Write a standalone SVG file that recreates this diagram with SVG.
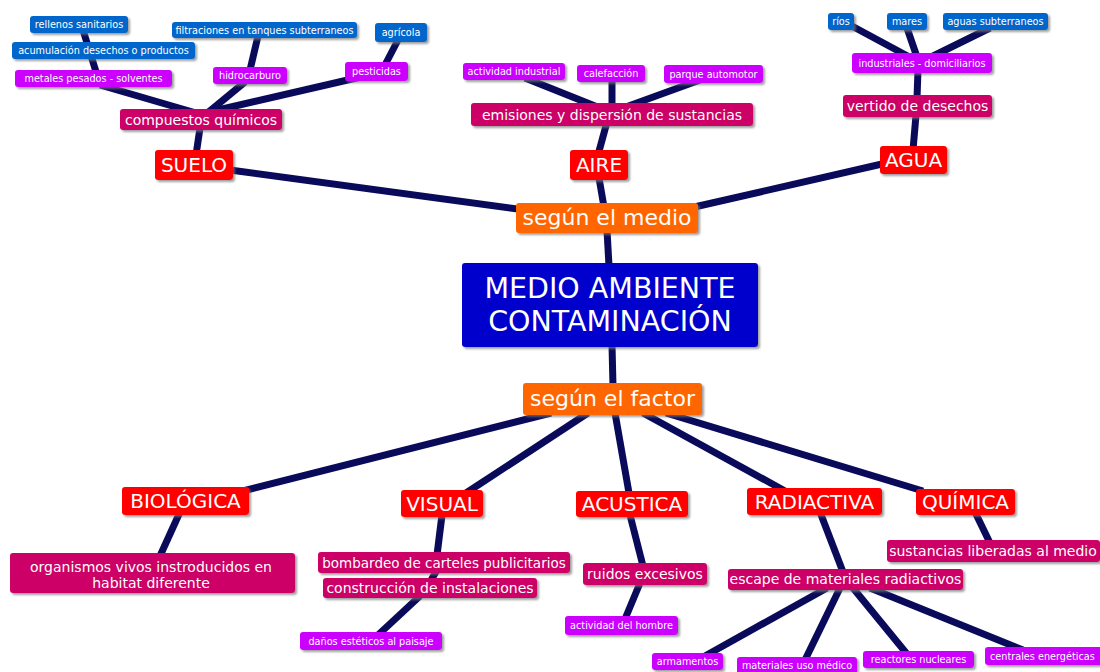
<svg xmlns="http://www.w3.org/2000/svg" width="1100" height="672" viewBox="0 0 1100 672">
<style>
text{font-family:"DejaVu Sans","Liberation Sans",sans-serif;fill:#fff;text-anchor:middle}
.c line{stroke:#0a0a5a;stroke-width:7;stroke-linecap:butt}
.box{filter:url(#sh)}
.red{fill:#ff0000}.crim{fill:#cc0066}.pur{fill:#cc00ff}.blu{fill:#0066cc}.org{fill:#ff6600}.main{fill:#0000cc}
.s{font-size:9.7px}.m{font-size:14px}.l{font-size:20px}.o{font-size:22px}.x{font-size:28.5px}
</style>
<defs>
<filter id="sh" x="-10%" y="-20%" width="130%" height="160%">
<feDropShadow dx="2" dy="2" stdDeviation="1" flood-color="#777" flood-opacity="0.7"/>
</filter>
</defs>
<rect width="1100" height="672" fill="#fff"/>
<g class="c" id="connectors">
<line x1="83" y1="30" x2="97" y2="75"/>
<line x1="100" y1="85" x2="203" y2="115"/>
<line x1="258" y1="36" x2="250" y2="70"/>
<line x1="245" y1="82" x2="205" y2="115"/>
<line x1="398" y1="40" x2="385" y2="65"/>
<line x1="365" y1="76" x2="205" y2="113"/>
<line x1="200" y1="128" x2="196" y2="155"/>
<line x1="525" y1="78" x2="610" y2="112"/>
<line x1="612" y1="80" x2="612" y2="112"/>
<line x1="700" y1="80" x2="612" y2="112"/>
<line x1="607" y1="122" x2="598" y2="155"/>
<line x1="850" y1="25" x2="915" y2="60"/>
<line x1="907" y1="28" x2="918" y2="60"/>
<line x1="990" y1="28" x2="925" y2="60"/>
<line x1="918" y1="70" x2="917" y2="98"/>
<line x1="916" y1="115" x2="913" y2="150"/>
<line x1="230" y1="170" x2="525" y2="210"/>
<line x1="599" y1="178" x2="604" y2="207"/>
<line x1="882" y1="164" x2="690" y2="208"/>
<line x1="607" y1="230" x2="609" y2="266"/>
<line x1="612" y1="345" x2="613" y2="386"/>
<line x1="551" y1="413" x2="239" y2="492"/>
<line x1="588" y1="413" x2="466" y2="493"/>
<line x1="615" y1="413" x2="629" y2="493"/>
<line x1="643" y1="413" x2="785" y2="491"/>
<line x1="666" y1="413" x2="923" y2="491"/>
<line x1="180" y1="512" x2="160" y2="556"/>
<line x1="442" y1="515" x2="437" y2="555"/>
<line x1="437" y1="570" x2="430" y2="582"/>
<line x1="420" y1="596" x2="378" y2="635"/>
<line x1="630" y1="515" x2="643" y2="566"/>
<line x1="640" y1="583" x2="625" y2="619"/>
<line x1="820" y1="512" x2="843" y2="572"/>
<line x1="975" y1="512" x2="990" y2="543"/>
<line x1="827" y1="588" x2="705" y2="656"/>
<line x1="840" y1="588" x2="805" y2="660"/>
<line x1="853" y1="588" x2="907" y2="654"/>
<line x1="870" y1="588" x2="1023" y2="650"/>
</g>
<g id="rellenos"><rect class="box blu" x="30" y="16" width="98" height="17" rx="3"/><text class="s" x="79" y="28">rellenos sanitarios</text></g>
<g id="acumulacion"><rect class="box blu" x="12" y="42" width="183" height="17" rx="3"/><text class="s" x="103.5" y="54">acumulación desechos o productos</text></g>
<g id="metales"><rect class="box pur" x="15" y="70" width="157" height="17" rx="3"/><text class="s" x="93.5" y="82">metales pesados - solventes</text></g>
<g id="filtraciones"><rect class="box blu" x="172" y="22" width="185" height="16" rx="3"/><text class="s" x="264.5" y="33.5">filtraciones en tanques subterraneos</text></g>
<g id="hidrocarburo"><rect class="box pur" x="213" y="67" width="74" height="17" rx="3"/><text class="s" x="250" y="79">hidrocarburo</text></g>
<g id="agricola"><rect class="box blu" x="375" y="23" width="52" height="19" rx="3"/><text class="s" x="401" y="36">agrícola</text></g>
<g id="pesticidas"><rect class="box pur" x="345" y="62" width="63" height="19" rx="3"/><text class="s" x="376.5" y="75">pesticidas</text></g>
<g id="compuestos"><rect class="box crim" x="120" y="109" width="162" height="21" rx="3"/><text class="m" x="201" y="124.5">compuestos químicos</text></g>
<g id="suelo"><rect class="box red" x="155" y="150" width="78" height="30" rx="3"/><text class="l" x="194" y="172">SUELO</text></g>
<g id="actividad-industrial"><rect class="box pur" x="463" y="63" width="102" height="17" rx="3"/><text class="s" x="514" y="75">actividad industrial</text></g>
<g id="calefaccion"><rect class="box pur" x="577" y="65" width="68" height="17" rx="3"/><text class="s" x="611" y="77">calefacción</text></g>
<g id="parque"><rect class="box pur" x="664" y="65" width="99" height="18" rx="3"/><text class="s" x="713.5" y="77.5">parque automotor</text></g>
<g id="emisiones"><rect class="box crim" x="471" y="103" width="282" height="23" rx="3"/><text class="m" x="612" y="119.5">emisiones y dispersión de sustancias</text></g>
<g id="aire"><rect class="box red" x="570" y="150" width="58" height="30" rx="3"/><text class="l" x="599" y="172">AIRE</text></g>
<g id="rios"><rect class="box blu" x="828" y="13" width="26" height="17" rx="3"/><text class="s" x="841" y="25">ríos</text></g>
<g id="mares"><rect class="box blu" x="887" y="13" width="40" height="17" rx="3"/><text class="s" x="907" y="25">mares</text></g>
<g id="aguas-sub"><rect class="box blu" x="943" y="13" width="105" height="17" rx="3"/><text class="s" x="995.5" y="25">aguas subterraneos</text></g>
<g id="industriales"><rect class="box pur" x="852" y="53" width="140" height="20" rx="3"/><text class="s" x="922" y="66.5">industriales - domiciliarios</text></g>
<g id="vertido"><rect class="box crim" x="843" y="95" width="149" height="22" rx="3"/><text class="m" x="917.5" y="111">vertido de desechos</text></g>
<g id="agua"><rect class="box red" x="880" y="146" width="67" height="28" rx="3"/><text class="l" x="913.5" y="167">AGUA</text></g>
<g id="segun-medio"><rect class="box org" x="516" y="203" width="182" height="30" rx="3"/><text class="o" x="607" y="225">según el medio</text></g>
<g id="centro"><rect class="box main" x="462" y="263" width="296" height="84" rx="3"/><text class="x" x="610" y="298">MEDIO AMBIENTE</text><text class="x" x="610" y="331">CONTAMINACIÓN</text></g>
<g id="segun-factor"><rect class="box org" x="523" y="383" width="179" height="32" rx="3"/><text class="o" x="612.5" y="406">según el factor</text></g>
<g id="biologica"><rect class="box red" x="122" y="487" width="127" height="28" rx="3"/><text class="l" x="185.5" y="508">BIOLÓGICA</text></g>
<g id="organismos"><rect class="box crim" x="10" y="553" width="285" height="40" rx="3"/><text class="m" x="151" y="572">organismos vivos instroducidos en</text><text class="m" x="151" y="588">habitat diferente</text></g>
<g id="visual"><rect class="box red" x="401" y="490" width="82" height="27" rx="3"/><text class="l" x="442" y="510.5">VISUAL</text></g>
<g id="bombardeo"><rect class="box crim" x="318" y="552" width="252" height="21" rx="3"/><text class="m" x="444" y="567.5" style="font-size:13.5px">bombardeo de carteles publicitarios</text></g>
<g id="construccion"><rect class="box crim" x="323" y="578" width="214" height="20" rx="3"/><text class="m" x="430" y="593">construcción de instalaciones</text></g>
<g id="danos"><rect class="box pur" x="300" y="632" width="142" height="18" rx="3"/><text class="s" x="371" y="644.5">daños estéticos al paisaje</text></g>
<g id="acustica"><rect class="box red" x="576" y="491" width="112" height="26" rx="3"/><text class="l" x="632" y="511">ACUSTICA</text></g>
<g id="ruidos"><rect class="box crim" x="583" y="563" width="124" height="22" rx="3"/><text class="m" x="645" y="578.5">ruidos excesivos</text></g>
<g id="actividad-hombre"><rect class="box pur" x="565" y="616" width="113" height="19" rx="3"/><text class="s" x="621.5" y="629">actividad del hombre</text></g>
<g id="radiactiva"><rect class="box red" x="747" y="488" width="135" height="27" rx="3"/><text class="l" x="814.5" y="508.5">RADIACTIVA</text></g>
<g id="quimica"><rect class="box red" x="916" y="489" width="99" height="26" rx="3"/><text class="l" x="965.5" y="509">QUÍMICA</text></g>
<g id="sustancias"><rect class="box crim" x="887" y="540" width="213" height="22" rx="3"/><text class="m" x="993" y="556">sustancias liberadas al medio</text></g>
<g id="escape"><rect class="box crim" x="728" y="569" width="235" height="21" rx="3"/><text class="m" x="845.5" y="584">escape de materiales radiactivos</text></g>
<g id="armamentos"><rect class="box pur" x="652" y="653" width="71" height="17" rx="3"/><text class="s" x="687.5" y="665">armamentos</text></g>
<g id="materiales"><rect class="box pur" x="737" y="657" width="120" height="18" rx="3"/><text class="s" x="797" y="669">materiales uso médico</text></g>
<g id="reactores"><rect class="box pur" x="863" y="651" width="111" height="17" rx="3"/><text class="s" x="918.5" y="663">reactores nucleares</text></g>
<g id="centrales"><rect class="box pur" x="985" y="647" width="120" height="18" rx="3"/><text class="s" x="990" y="660" style="text-anchor:start">centrales energéticas</text></g>
</svg>
